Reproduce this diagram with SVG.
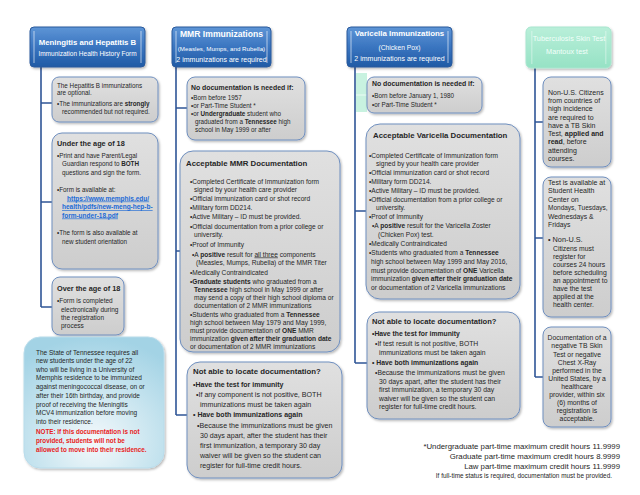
<svg xmlns="http://www.w3.org/2000/svg" width="640" height="495" viewBox="0 0 640 495">
<defs>
<linearGradient id="gBlue" x1="0" y1="0" x2="0" y2="1">
<stop offset="0" stop-color="#5e95d6"/><stop offset="0.5" stop-color="#3a75c0"/><stop offset="1" stop-color="#1f5aa5"/>
</linearGradient>
<linearGradient id="gMint" x1="0" y1="0" x2="0" y2="1">
<stop offset="0" stop-color="#b9efd9"/><stop offset="1" stop-color="#96e2c5"/>
</linearGradient>
<linearGradient id="gGray" x1="0" y1="0" x2="0" y2="1">
<stop offset="0" stop-color="#e0e0e0"/><stop offset="1" stop-color="#cdcdcd"/>
</linearGradient>
<radialGradient id="gSky" cx="0.5" cy="0.8" r="0.8">
<stop offset="0" stop-color="#f3f9fb"/><stop offset="1" stop-color="#a3d3e5"/>
</radialGradient>
<filter id="sh" x="-10%" y="-10%" width="130%" height="130%">
<feDropShadow dx="1.2" dy="1.5" stdDeviation="1.2" flood-color="#000" flood-opacity="0.28"/>
</filter>
</defs>
<style>
text{font-family:"Liberation Sans",Arial,sans-serif;fill:#262626;font-size:6.5px}
.h{fill:#fff;text-anchor:middle}
.b{font-weight:bold}
.box{fill:url(#gGray);stroke:#6f8fbf;stroke-width:1;filter:url(#sh)}
.hdr{fill:url(#gBlue);stroke:#2a5a9c;stroke-width:1;filter:url(#sh)}
.bev{fill:#fff;opacity:0.3}
.conn{stroke:#2f5597;stroke-width:1.6;fill:none}
.red{fill:#e8201a;font-weight:bold}
.lnk{fill:#1c6ad6;font-weight:bold;text-decoration:underline}
.c{text-anchor:middle}
.r{text-anchor:end}
</style>
<rect width="640" height="495" fill="#fff"/>

<g id="connectors">
<path class="conn" d="M41 67V307M41 103H52M41 202H52M41 307H52"/>
<path class="conn" d="M176 67V415M176 108H187M176 251H180M176 415H187"/>
<path class="conn" d="M355 67V363M355 211H366M355 363H367"/>
<path class="conn" d="M535 68V377M535 122H543M535 238H543M535 377H543"/>
<rect x="356" y="73" width="11" height="39" fill="#c8f2e0"/>
<line x1="356" y1="95" x2="367" y2="95" stroke="#ecfcf5" stroke-width="1"/>
</g>

<g id="hdr-mening">
<rect class="hdr" x="30" y="27" width="115" height="40" rx="4"/>
<rect class="bev" x="33" y="31" width="2" height="32"/><rect class="bev" x="140" y="31" width="2" height="32"/>
<text class="h b" x="87.5" y="44.5" style="font-size:7.8px">Meningitis and Hepatitis B</text>
<text class="h" x="87.5" y="56" style="font-size:6.5px">Immunization Health History Form</text>
</g>

<g id="n-hepb">
<rect class="box" x="52" y="77" width="106" height="45" rx="7"/>
<text x="57" y="87.5" style="font-size:6.3px">The Hepatitis B immunizations</text>
<text x="57" y="95" style="font-size:6.3px">are optional.</text>
<text x="57" y="105.5" style="font-size:6.3px">•The immunizations are <tspan class="b">strongly</tspan></text>
<text x="62" y="113.5" style="font-size:6.3px">recommended but not required.</text>
</g>

<g id="n-under18">
<rect class="box" x="52" y="133" width="106" height="136" rx="10"/>
<text class="b" x="57" y="146" style="font-size:7.3px">Under the age of 18</text>
<text x="57" y="157.5" style="font-size:6.3px">•Print  and have Parent/Legal</text>
<text x="62" y="166" style="font-size:6.3px">Guardian respond to <tspan class="b">BOTH</tspan></text>
<text x="62" y="174.5" style="font-size:6.3px">questions and sign the form.</text>
<text x="57" y="192" style="font-size:6.3px">•Form is available at:</text>
<text class="lnk" x="67" y="200.5" style="font-size:6.5px">https://www.memphis.edu/</text>
<text class="lnk" x="62" y="209" style="font-size:6.5px">health/pdfs/new-meng-hep-b-</text>
<text class="lnk" x="62" y="217.5" style="font-size:6.5px">form-under-18.pdf</text>
<text x="57" y="235" style="font-size:6.3px">•The form is also available at</text>
<text x="62" y="243.5" style="font-size:6.3px">new student orientation</text>
</g>

<g id="n-over18">
<rect class="box" x="52" y="277" width="72" height="58" rx="8"/>
<text class="b" x="57" y="290.5" style="font-size:7.3px">Over the age of 18</text>
<text x="57" y="303">•Form is completed</text>
<text x="61" y="311.5">electronically during</text>
<text x="61" y="319.5">the registration</text>
<text x="61" y="328">process</text>
</g>

<g id="n-state">
<rect x="24" y="337" width="140" height="131" rx="16" fill="url(#gSky)" stroke="#b9dceb" stroke-width="1" filter="url(#sh)"/>
<text x="36" y="354.5">The State of Tennessee requires all</text>
<text x="36" y="363">new students under the age of 22</text>
<text x="36" y="371.5">who will be living in a University of</text>
<text x="36" y="380">Memphis residence to be immunized</text>
<text x="36" y="389">against meningococcal disease, on or</text>
<text x="36" y="397.5">after their 16th birthday, and provide</text>
<text x="36" y="406.5">proof of receiving the Meningitis</text>
<text x="36" y="415">MCV4 immunization before moving</text>
<text x="36" y="424">into their residence.</text>
<text class="red" x="36" y="434" style="font-size:6.3px">NOTE: If this documentation is not</text>
<text class="red" x="36" y="443" style="font-size:6.3px">provided, students will not be</text>
<text class="red" x="36" y="452" style="font-size:6.3px">allowed to move into their residence.</text>
</g>

<g id="hdr-mmr">
<rect class="hdr" x="172" y="27" width="99" height="40" rx="4"/>
<rect class="bev" x="175" y="31" width="2" height="32"/><rect class="bev" x="266" y="31" width="2" height="32"/>
<text class="h b" x="221.5" y="36.5" style="font-size:8.6px">MMR Immunizations</text>
<text class="h" x="221.5" y="50.5" style="font-size:6.2px">(Measles, Mumps, and Rubella)</text>
<text class="h" x="221.5" y="61.5" style="font-size:7px">2 immunizations are required</text>
</g>

<g id="n-mmr-nodoc">
<rect class="box" x="187" y="77" width="118" height="63" rx="8"/>
<text class="b" x="191" y="89.5" style="font-size:6.9px">No documentation is needed if:</text>
<text x="191" y="99.5" style="font-size:6.3px">•Born before 1957</text>
<text x="191" y="107.5" style="font-size:6.3px">•or Part-Time  Student *</text>
<text x="191" y="116" style="font-size:6.3px">•or <tspan class="b">Undergraduate</tspan> student who</text>
<text x="195" y="124" style="font-size:6.3px">graduated from a <tspan class="b">Tennessee</tspan> high</text>
<text x="195" y="131.5" style="font-size:6.3px">school in May 1999 or after</text>
</g>

<g id="n-mmr-accept" style="font-size:6.6px">
<rect class="box" x="180" y="151" width="160" height="201" rx="13"/>
<text class="b" x="186" y="166" style="font-size:7.8px">Acceptable MMR Documentation</text>
<text x="190" y="183.5" style="font-size:6.6px">•Completed Certificate of Immunization form</text>
<text x="194" y="191.5" style="font-size:6.6px">signed by your  health care provider</text>
<text x="190" y="200.5" style="font-size:6.6px">•Official immunization card or shot record</text>
<text x="190" y="209.5" style="font-size:6.6px">•Military form DD214.</text>
<text x="190" y="219" style="font-size:6.6px">•Active Military – ID must be provided.</text>
<text x="190" y="228.5" style="font-size:6.6px">•Official documentation from a prior college or</text>
<text x="194" y="236.5" style="font-size:6.6px">university.</text>
<text x="190" y="246.5" style="font-size:6.6px">•Proof of Immunity</text>
<text x="192" y="256.5" style="font-size:6.6px">•A <tspan class="b">positive</tspan> result for <tspan text-decoration="underline">all three</tspan> components</text>
<text x="196" y="264.5" style="font-size:6.6px">(Measles, Mumps, Rubella) of the MMR Titer</text>
<text x="190" y="274.5" style="font-size:6.6px">•Medically Contraindicated</text>
<text x="190" y="283.5" style="font-size:6.6px">•<tspan class="b">Graduate students</tspan> who graduated from a</text>
<text x="194" y="291.5" style="font-size:6.6px"><tspan class="b">Tennessee</tspan> high school in  May 1999 or after</text>
<text x="194" y="299.5" style="font-size:6.6px">may send a copy of their high school diploma or</text>
<text x="194" y="307.5" style="font-size:6.6px">documentation of 2 MMR immunizations</text>
<text x="190" y="316.5" style="font-size:6.6px">•Students who graduated from a  <tspan class="b">Tennessee</tspan></text>
<text x="190" y="324.5" style="font-size:6.6px">high school between  May 1979 and May 1999,</text>
<text x="190" y="332.5" style="font-size:6.6px">must provide documentation of <tspan class="b">ONE</tspan> MMR</text>
<text x="190" y="340.5" style="font-size:6.6px">immunization <tspan class="b">given after their graduation date</tspan></text>
<text x="190" y="348.5" style="font-size:6.6px">or documentation of 2 MMR immunizations</text>
</g>

<g id="n-mmr-notable">
<rect class="box" x="187" y="362" width="155" height="116" rx="13"/>
<text class="b" x="193" y="374" style="font-size:7.8px">Not able to locate documentation?</text>
<text class="b" x="193" y="386.5" style="font-size:7px">•Have the test for immunity</text>
<text x="196" y="397" style="font-size:7.1px">•If any component is not positive, BOTH</text>
<text x="200" y="406.5" style="font-size:7.1px">immunizations must be taken again</text>
<text class="b" x="193" y="417" style="font-size:7px">• Have both immunizations again</text>
<text x="197" y="428" style="font-size:7.1px">•Because the immunizations must be given</text>
<text x="200" y="438" style="font-size:7.1px">30 days apart, after the student has their</text>
<text x="200" y="448" style="font-size:7.1px">first immunization, a temporary 30 day</text>
<text x="200" y="458" style="font-size:7.1px">waiver will be given so the student can</text>
<text x="200" y="468" style="font-size:7.1px">register for full-time credit hours.</text>
</g>

<g id="hdr-varicella">
<rect class="hdr" x="347" y="27" width="105" height="40" rx="4"/>
<rect class="bev" x="350" y="31" width="2" height="32"/><rect class="bev" x="447" y="31" width="2" height="32"/>
<text class="h b" x="399.5" y="35.5" style="font-size:7.9px">Varicella Immunizations</text>
<text class="h" x="399.5" y="49.5" style="font-size:6.7px">(Chicken Pox)</text>
<text class="h" x="399.5" y="61" style="font-size:7px">2 immunizations are required</text>
</g>

<g id="n-var-nodoc">
<rect class="box" x="367" y="77" width="115" height="36" rx="7"/>
<text class="b" x="372" y="86" style="font-size:6.9px">No documentation is needed if:</text>
<text x="372" y="98" style="font-size:6.3px">•Born before January 1, 1980</text>
<text x="372" y="107" style="font-size:6.3px">•or Part-Time Student *</text>
</g>

<g id="n-var-accept">
<rect class="box" x="366" y="124" width="154" height="175" rx="14"/>
<text class="b" x="373" y="138" style="font-size:7.8px">Acceptable Varicella Documentation</text>
<text x="369" y="157.5" style="font-size:6.6px">•Completed Certificate of Immunization form</text>
<text x="376" y="166" style="font-size:6.6px">signed by your  health care provider</text>
<text x="369" y="175" style="font-size:6.6px">•Official immunization card or shot record</text>
<text x="369" y="184" style="font-size:6.6px">•Military form DD214.</text>
<text x="369" y="193" style="font-size:6.6px">•Active Military – ID must be provided.</text>
<text x="369" y="202" style="font-size:6.6px">•Official documentation from a prior college or</text>
<text x="376" y="210" style="font-size:6.6px">university.</text>
<text x="369" y="219" style="font-size:6.6px">•Proof of Immunity</text>
<text x="372" y="228" style="font-size:6.6px">•A <tspan class="b">positive</tspan> result for the Varicella Zoster</text>
<text x="378" y="236.5" style="font-size:6.6px">(Chicken Pox) test.</text>
<text x="369" y="246" style="font-size:6.6px">•Medically Contraindicated</text>
<text x="369" y="255" style="font-size:6.6px">•Students who graduated from a  <tspan class="b">Tennessee</tspan></text>
<text x="371" y="264" style="font-size:6.6px">high school between May 1999 and May 2016,</text>
<text x="371" y="272.5" style="font-size:6.6px">must provide documentation of <tspan class="b">ONE</tspan> Varicella</text>
<text x="371" y="281" style="font-size:6.6px">immunization <tspan class="b">given after their graduation date</tspan></text>
<text x="371" y="289.5" style="font-size:6.6px">or documentation of 2 Varicella immunizations</text>
</g>

<g id="n-var-notable">
<rect class="box" x="367" y="312" width="153" height="107" rx="12"/>
<text class="b" x="372" y="324" style="font-size:7.6px">Not able to locate documentation?</text>
<text class="b" x="372" y="336" style="font-size:6.8px">•Have the test for immunity</text>
<text x="375" y="346" style="font-size:6.8px">•If test result is not positive, BOTH</text>
<text x="379" y="355" style="font-size:6.8px">immunizations must be taken again</text>
<text class="b" x="372" y="365" style="font-size:6.8px">• Have both immunizations again</text>
<text x="375" y="375" style="font-size:6.8px">•Because the immunizations must be given</text>
<text x="379" y="383.5" style="font-size:6.8px">30 days apart, after the student has their</text>
<text x="379" y="392" style="font-size:6.8px">first immunization, a temporary 30 day</text>
<text x="379" y="400.5" style="font-size:6.8px">waiver will be given so the student can</text>
<text x="379" y="409" style="font-size:6.8px">register for full-time credit hours.</text>
</g>

<g id="hdr-tb">
<rect x="526" y="27" width="85" height="41" rx="5" fill="url(#gMint)" stroke="#a8e6cf" stroke-width="1" filter="url(#sh)"/>
<rect class="bev" x="531" y="31" width="1.5" height="33"/><rect class="bev" x="605" y="31" width="1.5" height="33"/>
<text class="h" x="569" y="40.5" style="font-size:7.3px;fill:#f2fffa">Tuberculosis Skin Test</text>
<text class="h" x="567" y="53.5" style="font-size:7.3px;fill:#f2fffa">Mantoux test</text>
</g>

<g id="n-tb-nonus" style="font-size:7px">
<rect class="box" x="543" y="77" width="68" height="90" rx="8"/>
<text x="548" y="94.5" style="font-size:7px">Non-U.S. Citizens</text>
<text x="548" y="102.5" style="font-size:7px">from countries of</text>
<text x="548" y="111" style="font-size:7px">high incidence</text>
<text x="548" y="119.5" style="font-size:7px">are required to</text>
<text x="548" y="127.5" style="font-size:7px">have a TB Skin</text>
<text x="548" y="136" style="font-size:7px">Test, <tspan class="b">applied and</tspan></text>
<text x="548" y="144" style="font-size:7px"><tspan class="b">read</tspan>, before</text>
<text x="548" y="152.5" style="font-size:7px">attending</text>
<text x="548" y="160.5" style="font-size:7px">courses.</text>
</g>

<g id="n-tb-avail">
<rect class="box" x="543" y="177" width="68" height="140" rx="8"/>
<text x="548" y="184.5" style="font-size:7px">Test is available at</text>
<text x="548" y="193" style="font-size:7px">Student Health</text>
<text x="548" y="201.5" style="font-size:7px">Center on</text>
<text x="548" y="210" style="font-size:6.5px">Mondays, Tuesdays,</text>
<text x="548" y="218.5" style="font-size:6.8px">Wednesdays &amp;</text>
<text x="548" y="227" style="font-size:6.8px">Fridays</text>
<text x="548" y="241.5" style="font-size:7.3px">• Non-U.S.</text>
<text x="553" y="250.5" style="font-size:6.8px">Citizens  must</text>
<text x="553" y="259" style="font-size:6.8px">register for</text>
<text x="553" y="266.5" style="font-size:6.8px">courses 24 hours</text>
<text x="553" y="274.5" style="font-size:6.8px">before scheduling</text>
<text x="553" y="283" style="font-size:6.8px">an appointment to</text>
<text x="553" y="290.5" style="font-size:6.8px">have the test</text>
<text x="553" y="299" style="font-size:6.8px">applied at the</text>
<text x="553" y="306.5" style="font-size:6.8px">health center.</text>
</g>

<g id="n-tb-doc">
<rect class="box" x="543" y="327" width="68" height="100" rx="8"/>
<text class="c" x="577" y="339.5" style="font-size:6.8px">Documentation of a</text>
<text class="c" x="577" y="348" style="font-size:6.8px">negative TB Skin</text>
<text class="c" x="577" y="356.5" style="font-size:6.8px">Test or negative</text>
<text class="c" x="577" y="364.5" style="font-size:6.8px">Chest X-Ray</text>
<text class="c" x="577" y="372.5" style="font-size:6.8px">performed  in the</text>
<text class="c" x="577" y="380.5" style="font-size:6.8px">United States, by a</text>
<text class="c" x="577" y="388.5" style="font-size:6.8px">healthcare</text>
<text class="c" x="577" y="396.5" style="font-size:6.8px">provider, within  six</text>
<text class="c" x="577" y="404.5" style="font-size:6.8px">(6) months of</text>
<text class="c" x="577" y="413" style="font-size:6.8px">registration is</text>
<text class="c" x="577" y="421" style="font-size:6.8px">acceptable.</text>
</g>

<g id="footnote">
<text class="r" x="620" y="449" style="font-size:7.8px">*Undergraduate part-time maximum credit hours 11.9999</text>
<text class="r" x="620" y="459" style="font-size:7.8px">Graduate part-time maximum credit hours 8.9999</text>
<text class="r" x="620" y="469" style="font-size:7.8px">Law part-time maximum credit hours 11.9999</text>
<text class="r" x="612" y="478" style="font-size:6.4px">If full-time status is required, documentation must be provided.</text>
</g>
</svg>
